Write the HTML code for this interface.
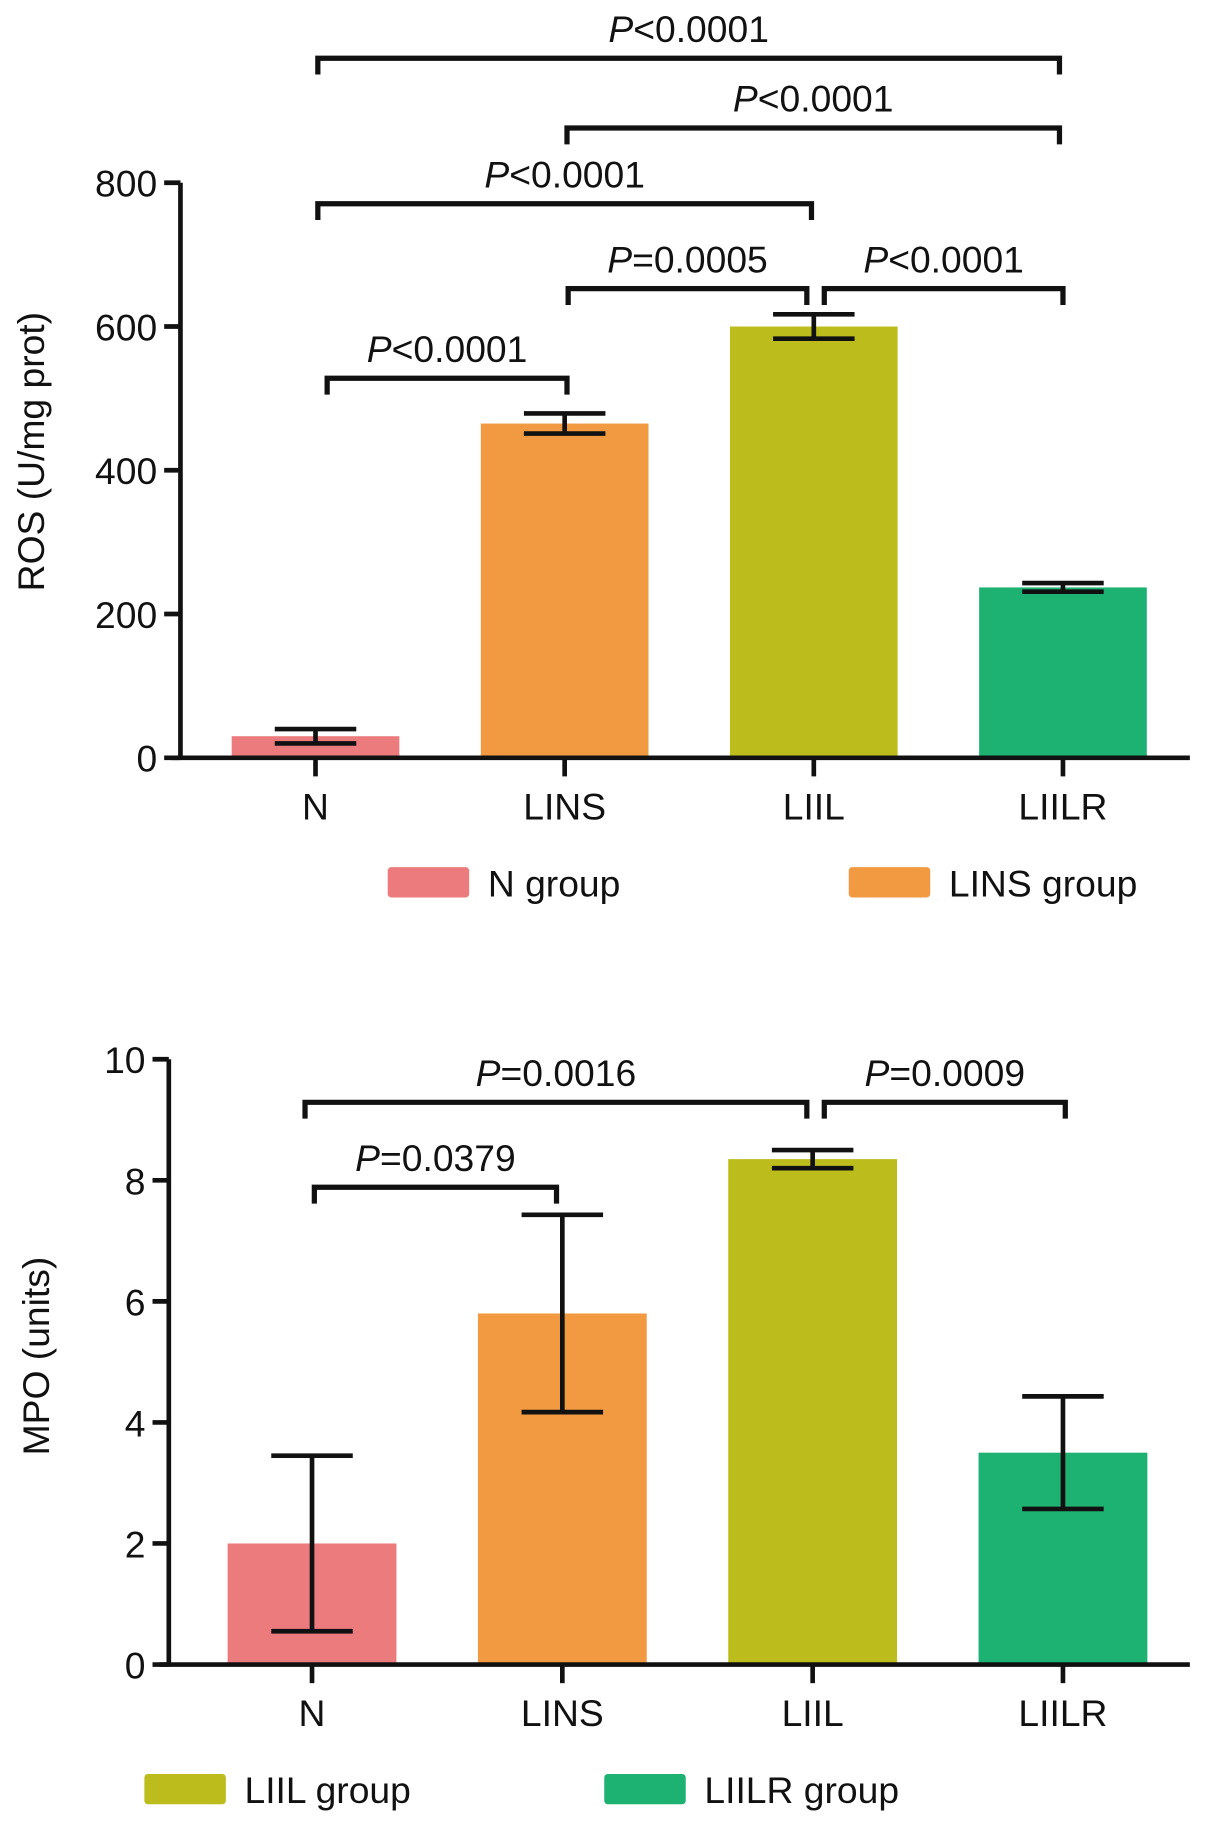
<!DOCTYPE html>
<html><head><meta charset="utf-8"><style>
html,body{margin:0;padding:0;background:#fff}
svg{display:block;font-family:"Liberation Sans",Arial,sans-serif}
</style></head><body>
<svg id="fig" width="1205" height="1824" viewBox="0 0 1035 1567" preserveAspectRatio="none" xmlns="http://www.w3.org/2000/svg"></svg>
<script>
const categories = ["N","LINS","LIIL","LIILR"];
const colors = ["#ec7b7e","#f29a42","#bcbd1d","#1db272"];
const rosValues = [30, 465, 600, 237];
const rosErrors = [10, 14, 17, 6];
const rosTicks = [0,200,400,600,800];
const mpoValues = [2.0, 5.8, 8.35, 3.5];
const mpoErrors = [1.45, 1.63, 0.15, 0.93];
const mpoTicks = [0,2,4,6,8,10];
const rosComparisons = [[0,3,"<0.0001"],[1,3,"<0.0001"],[0,2,"<0.0001"],[1,2,"=0.0005"],[2,3,"<0.0001"],[0,1,"<0.0001"]];
const mpoComparisons = [[0,2,"=0.0016"],[2,3,"=0.0009"],[0,1,"=0.0379"]];

const NS="http://www.w3.org/2000/svg";
const svg=document.getElementById('fig');
const FS=32;
function mk(tag,attrs,parent){const e=document.createElementNS(NS,tag);for(const k in attrs)e.setAttribute(k,attrs[k]);(parent||svg).appendChild(e);return e;}

function chart(cfg){
  const g=mk('g',{});
  
  
  const ymax=cfg.ticks[cfg.ticks.length-1];
  const y=v=>cfg.y0-(v/ymax)*(cfg.y0-cfg.yTop);
  const x=i=>cfg.c0+i*cfg.step;
  categories.forEach((c,i)=>{
    const b=mk('rect',{x:x(i)-cfg.bw/2,y:y(cfg.values[i]),width:cfg.bw,height:cfg.y0-y(cfg.values[i]),fill:colors[i]},g);
    
    
    const hi=y(cfg.values[i]+cfg.errors[i]), lo=y(cfg.values[i]-cfg.errors[i]);
    const eb=mk('path',{d:`M${x(i)} ${hi}V${lo}M${x(i)-35} ${hi}H${x(i)+35}M${x(i)-35} ${lo}H${x(i)+35}`,stroke:'#111','stroke-width':4,fill:'none'},g);
    
    
    mk('path',{d:`M${x(i)} ${cfg.y0}v16`,stroke:'#111','stroke-width':4},g);
    const tl=mk('text',{x:x(i),y:cfg.y0+53,'text-anchor':'middle','font-size':FS,fill:'#111'},g);
    tl.textContent=c;
    
    
  });
  const ax=mk('path',{d:`M${cfg.ax} ${cfg.yTop}V${cfg.y0}M${cfg.ax-8} ${cfg.y0}H${cfg.xEnd}`,stroke:'#111','stroke-width':4,fill:'none'},g);
  
  
  cfg.ticks.forEach(v=>{
    mk('path',{d:`M${cfg.ax-14} ${y(v)}H${cfg.ax}`,stroke:'#111','stroke-width':4},g);
    const t=mk('text',{x:cfg.ax-20,y:y(v)+12,'text-anchor':'end','font-size':FS,fill:'#111'},g);
    t.textContent=v;
    
    
  });
  const yt=mk('text',{x:0,y:0,'text-anchor':'middle','font-size':FS,fill:'#111',transform:`translate(${cfg.titleX},${cfg.titleY}) rotate(-90)`},g);
  yt.textContent=cfg.title;
  
  
  cfg.comps.forEach((cp,k)=>{
    const [a,b,p]=cp; const by=cfg.bY[k];
    const xa=x(a)+(cfg.off[k]?cfg.off[k][0]:0), xb=x(b)+(cfg.off[k]?cfg.off[k][1]:0);
    const br=mk('path',{d:`M${xa} ${by+14}V${by}H${xb}V${by+14}`,stroke:'#111','stroke-width':4.5,fill:'none'},g);
    
    
    const tx=mk('text',{x:(xa+xb)/2,y:by-14,'text-anchor':'middle','font-size':FS,fill:'#111'},g);
    const ti=mk('tspan',{'font-style':'italic'},tx); ti.textContent='P';
    const tr=mk('tspan',{},tx); tr.textContent=p;
    
    
  });
  cfg.legend.forEach(([i,lx])=>{
    const r=mk('rect',{x:lx,y:cfg.legY-13,width:70,height:26,rx:3,fill:colors[i]},g);
    
    
    const t=mk('text',{x:lx+86,y:cfg.legY+12,'font-size':FS,fill:'#111'},g);
    t.textContent=categories[i]+' group';
    
    
  });
}
chart({name:'ros-chart',values:rosValues,errors:rosErrors,ticks:rosTicks,y0:651,yTop:157,ax:155,xEnd:1022,c0:271,step:214,bw:144,
  title:'ROS (U/mg prot)',titleX:38,titleY:388,comps:rosComparisons,
  bY:[50,110,175,248,248,325],off:[[2,-3],[2,-3],[2,-2],[3,-6],[9,0],[10,2]],legY:758,legend:[[0,333],[1,729]]});
chart({name:'mpo-chart',values:mpoValues,errors:mpoErrors,ticks:mpoTicks,y0:1430,yTop:910,ax:145,xEnd:1022,c0:268,step:215,bw:145,
  title:'MPO (units)',titleX:42,titleY:1165,comps:mpoComparisons,
  bY:[947,947,1020],off:[[-6,-5],[10,2],[2,-5]],legY:1537,legend:[[2,124],[3,519]]});
</script>
</body></html>
